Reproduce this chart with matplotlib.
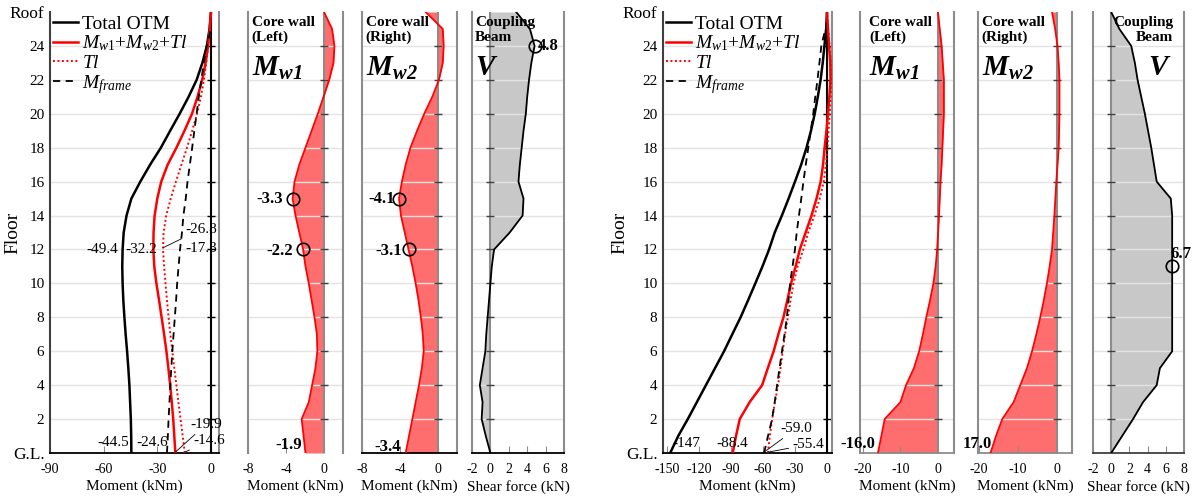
import numpy as np
import matplotlib
matplotlib.use('Agg')
import matplotlib.pyplot as plt

plt.rcParams['font.family'] = 'Liberation Serif'
plt.rcParams['mathtext.fontset'] = 'custom'
plt.rcParams['mathtext.rm'] = 'Liberation Serif'
plt.rcParams['mathtext.it'] = 'Liberation Serif:italic'
plt.rcParams['mathtext.bf'] = 'Liberation Serif:bold:italic'

# floors: 0 = G.L., 26 = Roof
floors = np.arange(27)
floors_frame = np.arange(26)
floor_ticks = np.arange(0, 27, 2)
floor_labels = ['G.L.'] + [str(f) for f in range(2, 26, 2)] + ['Roof']
grid_floors = np.arange(2, 25, 2)

# ---- left case ----
otm_total_a = [-44.5, -44.6, -44.8, -45.2, -45.6, -46.2, -46.9, -47.7, -48.4, -49.0, -49.4, -49.6, -49.4,
               -48.8, -47.2, -44.5, -39.5, -34.0, -28.0, -22.8, -17.5, -12.5, -8.0, -4.8, -2.3, -0.8, 0.0]
otm_walls_a = [-19.9, -20.5, -21.1, -21.9, -22.8, -23.8, -24.9, -26.2, -27.6, -29.0, -30.5, -31.7, -32.2,
               -32.1, -31.5, -30.0, -27.8, -24.2, -19.3, -14.8, -10.6, -7.5, -4.9, -3.0, -1.6, -0.6, 0.0]
otm_tl_a = [-14.6, -15.8, -17.0, -18.2, -19.3, -20.5, -21.6, -22.7, -23.7, -24.6, -25.4, -26.2, -26.8,
            -26.5, -25.0, -22.5, -19.6, -16.5, -13.4, -10.5, -7.8, -5.6, -3.9, -2.6, -1.6, -0.7, 0.0]
otm_frame_a = [-24.6, -24.1, -23.7, -23.2, -22.7, -22.2, -21.6, -20.9, -20.2, -19.5, -18.9, -18.1, -17.3,
               -16.2, -15.4, -14.1, -13.1, -11.8, -10.5, -9.3, -8.0, -6.8, -5.4, -4.0, -2.4, 0.0]
mw1_a = [-1.95, -2.15, -2.35, -1.6, -1.25, -0.9, -0.7, -0.75, -1.0, -1.3, -1.6, -1.95, -2.2,
         -2.6, -3.0, -3.3, -3.1, -2.6, -1.95, -1.3, -0.65, -0.05, 0.55, 1.0, 1.1, 0.85, 0.0]
mw2_a = [-3.4, -3.05, -2.7, -2.35, -2.0, -1.7, -1.5, -1.6, -1.8, -2.05, -2.35, -2.7, -3.1,
         -3.5, -3.9, -4.1, -3.8, -3.4, -2.9, -2.2, -1.45, -0.6, 0.1, 0.5, 0.6, 0.5, -1.3]
shear_a = [0.0, -0.5, -0.95, -0.85, -1.15, -0.85, -0.55, -0.45, -0.3, -0.15, 0.0, 0.15, 0.4,
           2.1, 3.5, 3.6, 3.05, 3.2, 3.4, 3.6, 3.85, 4.0, 4.2, 4.45, 4.8, 4.3, 2.8]

# ---- right case ----
otm_total_b = [-147.0, -139.5, -130.5, -122.0, -113.5, -105.0, -96.5, -88.8, -81.0, -74.0, -67.2, -60.5, -54.3,
               -49.0, -42.3, -36.0, -30.0, -24.2, -19.2, -15.0, -11.5, -8.6, -6.0, -4.0, -2.4, -0.8, 0.0]
otm_walls_b = [-88.4, -85.3, -81.8, -72.5, -60.8, -55.5, -50.0, -45.6, -40.8, -37.2, -33.7, -29.4, -25.5,
               -20.0, -14.5, -9.8, -5.9, -3.7, -2.2, -0.5, 0.9, 2.2, 3.3, 3.1, 1.9, 0.9, 0.0]
otm_tl_b = [-55.4, -53.6, -51.4, -48.8, -45.9, -43.6, -41.5, -39.3, -36.7, -34.2, -31.4, -27.5, -22.2,
            -17.6, -11.8, -6.8, -3.0, -1.0, 0.5, 1.5, 2.5, 3.4, 3.8, 3.5, 2.5, 1.0, 0.0]
otm_frame_b = [-59.0, -55.3, -51.5, -49.0, -46.8, -44.5, -42.2, -39.8, -37.6, -36.1, -34.6, -32.3, -30.0,
               -28.4, -26.3, -24.1, -22.1, -19.9, -17.5, -15.2, -12.9, -11.0, -8.9, -7.1, -5.3, -1.5]
mw1_b = [-16.0, -15.1, -14.2, -10.0, -8.5, -6.4, -5.0, -4.0, -3.1, -2.1, -1.2, -0.6, -0.2,
         0.05, 0.3, 0.5, 0.7, 1.0, 1.2, 1.4, 1.6, 1.6, 1.6, 1.3, 1.0, 0.5, 0.0]
mw2_b = [-17.0, -15.6, -14.0, -11.1, -9.4, -7.7, -6.4, -5.3, -4.3, -3.4, -2.6, -1.9, -1.3,
         -1.0, -0.7, -0.45, -0.2, 0.1, 0.4, 0.5, 0.6, 0.6, 0.6, 0.4, 0.1, -0.5, -1.3]
shear_b = [0.0, 1.2, 2.4, 3.5, 5.0, 5.35, 6.7, 6.7, 6.7, 6.7, 6.7, 6.7, 6.7,
           6.7, 6.7, 6.55, 5.0, 4.7, 4.4, 4.05, 3.7, 3.3, 2.9, 2.6, 2.2, 0.9, 0.0]

W, H = 1202, 496
TOP, BOT = 12, 453
GRAY = '#8c8c8c'

fig = plt.figure(figsize=(W / 100, H / 100), dpi=100)


def make_ax(left, right, xlim, xticks, xlabel, first=False, bottom=True, bottom_color=GRAY):
    ax = fig.add_axes([left / W, (H - BOT) / H, (right - left) / W, (BOT - TOP) / H])
    ax.set_xlim(*xlim)
    ax.set_ylim(0, 26)
    ax.set_xticks(xticks)
    ax.set_xticklabels([str(t) for t in xticks], fontsize=10)
    ax.tick_params(axis='x', direction='in', length=5, color=GRAY, pad=7)
    ax.set_xlabel(xlabel, fontsize=11, labelpad=3)
    ax.spines['top'].set_visible(False)
    for s in ('left', 'right'):
        ax.spines[s].set_color(GRAY)
        ax.spines[s].set_linewidth(1.5)
    if bottom:
        ax.spines['bottom'].set_color(bottom_color)
        ax.spines['bottom'].set_linewidth(1.3)
    else:
        ax.spines['bottom'].set_visible(False)
    ax.set_yticks(floor_ticks)
    if first:
        ax.set_yticklabels(floor_labels, fontsize=11)
        for lab in ax.get_yticklabels():
            if lab.get_text() in ('G.L.', 'Roof'):
                lab.set_fontsize(12.5)
        ax.tick_params(axis='y', length=0, pad=4)
        ax.set_ylabel('Floor', fontsize=14)
        ax.spines['left'].set_color('#404040')
    else:
        ax.set_yticklabels([])
        ax.tick_params(axis='y', length=0)
    ax.hlines(grid_floors, xlim[0], xlim[1], color='#e3e3e3', lw=1.0, zorder=1.5)
    return ax


def otm_panel(ax, total, walls, tl, frame):
    ax.axvline(0, color='black', lw=1.5, zorder=2)
    ax.plot(np.zeros(len(grid_floors)), grid_floors, ls='none', marker='_', ms=6, color='black', zorder=2)
    ax.plot(total, floors, color='black', lw=1.8, label='Total OTM', zorder=3)
    ax.plot(walls, floors, color='red', lw=1.8, label=r'$M_{w1}$+$M_{w2}$+$Tl$', zorder=3)
    ax.plot(tl, floors, color='red', lw=1.4, ls=(0, (1, 1.3)), label=r'$Tl$', zorder=3)
    ax.plot(frame, floors_frame, color='black', lw=1.3, ls=(0, (4, 3)), label=r'$M_{frame}$', zorder=3)
    ax.legend(loc='upper left', frameon=False, fontsize=14, handlelength=1.3, handletextpad=0.2,
              labelspacing=0.05, borderaxespad=0.05, borderpad=0.1)


def wall_panel(ax, values, title, symbol, tx=0.04):
    ax.axvline(0, color=GRAY, lw=1.5, zorder=2)
    ax.plot(np.zeros(len(grid_floors)), grid_floors, ls='none', marker='_', ms=6, color='#404040', zorder=2)
    ax.fill_betweenx(floors, values, 0, color='#ff6e6e', lw=0, zorder=1)
    ax.plot(values, floors, color='red', lw=1.3, zorder=3)
    ax.text(tx, 0.99, title, transform=ax.transAxes, ha='left', va='top', fontsize=11,
            fontweight='bold', linespacing=1.15, zorder=5)
    ax.text(tx, 0.872, symbol, transform=ax.transAxes, ha='left', va='center', fontsize=21, zorder=5)


def shear_panel(ax, values, align='left'):
    ax.axvline(0, color=GRAY, lw=1.5, zorder=2)
    ax.plot(np.zeros(len(grid_floors)), grid_floors, ls='none', marker='_', ms=6, color='#404040', zorder=2)
    ax.fill_betweenx(floors, values, 0, color='#c8c8c8', lw=0, zorder=1)
    ax.plot(values, floors, color='black', lw=1.3, zorder=3)
    x = 0.03 if align == 'left' else 0.88
    ax.text(x, 0.99, 'Coupling\nBeam', transform=ax.transAxes, ha=align, va='top', fontsize=11,
            fontweight='bold', linespacing=1.15, zorder=5)
    ax.text(x if align == 'left' else 0.865, 0.872, r'$\mathbf{V}$', transform=ax.transAxes,
            ha=align, va='center', fontsize=21, zorder=5)


def circle(ax, x, y):
    ax.plot([x], [y], ls='none', marker='o', ms=9, mfc='none', mec='black', mew=1.2, zorder=4)


def leader(ax, text, xy, xytext, **kw):
    ax.annotate(text, xy=xy, xytext=xytext, fontsize=11, ha='left', va='center',
                arrowprops=dict(arrowstyle='-', lw=0.6, color='black', shrinkA=1, shrinkB=0), **kw)


# ---------------- left group ----------------
ax1 = make_ax(50, 219, (-90, 4.5), [-90, -60, -30, 0], 'Moment (kNm)', first=True, bottom_color='black')
ax1.yaxis.set_label_coords(-0.17, 0.5)
otm_panel(ax1, otm_total_a, otm_walls_a, otm_tl_a, otm_frame_a)
ax1.text(-51.7, 12, '-49.4', fontsize=11, ha='right', va='center')
ax1.text(-47.8, 12, '-32.2', fontsize=11, ha='left', va='center')
ax1.text(-14.3, 12.05, '-17.3', fontsize=11, ha='left', va='center')
leader(ax1, '-26.8', (otm_tl_a[12], 12.1), (-14.3, 13.2))
ax1.text(-45.6, 0.6, '-44.5', fontsize=11, ha='right', va='center')
ax1.text(-23.8, 0.6, '-24.6', fontsize=11, ha='right', va='center')
leader(ax1, '-19.9', (otm_walls_a[0], 0.05), (-11.5, 1.7))
leader(ax1, '-14.6', (otm_tl_a[0], 0.05), (-9.8, 0.75))

ax2 = make_ax(248, 343, (-8, 2), [-8, -4, 0], 'Moment (kNm)', bottom=False)
wall_panel(ax2, mw1_a, 'Core wall\n(Left)', r'$\mathbf{M_{w1}}$')
circle(ax2, mw1_a[15], 15)
circle(ax2, mw1_a[12], 12)
ax2.text(-4.3, 15, '-3.3', fontsize=12, fontweight='bold', ha='right', va='center')
ax2.text(-3.25, 11.9, '-2.2', fontsize=12, fontweight='bold', ha='right', va='center')
ax2.text(-2.3, 0.45, '-1.9', fontsize=12, fontweight='bold', ha='right', va='center')

ax3 = make_ax(362, 457, (-8, 2), [-8, -4, 0], 'Moment (kNm)', bottom_color='black')
wall_panel(ax3, mw2_a, 'Core wall\n(Right)', r'$\mathbf{M_{w2}}$')
circle(ax3, mw2_a[15], 15)
circle(ax3, mw2_a[12], 12)
ax3.text(-4.5, 15, '-4.1', fontsize=12, fontweight='bold', ha='right', va='center')
ax3.text(-3.8, 11.9, '-3.1', fontsize=12, fontweight='bold', ha='right', va='center')
ax3.text(-3.95, 0.35, '-3.4', fontsize=12, fontweight='bold', ha='right', va='center')

ax4 = make_ax(472, 564, (-2, 8), [-2, 0, 2, 4, 6, 8], 'Shear force (kN)', bottom_color='black')
shear_panel(ax4, shear_a, 'left')
circle(ax4, shear_a[24], 24)
ax4.text(5.2, 24, '4.8', fontsize=12, fontweight='bold', ha='left', va='center')

# ---------------- right group ----------------
ax5 = make_ax(663, 832, (-153.75, 4.7), [-150, -120, -90, -60, -30, 0], 'Moment (kNm)', first=True,
              bottom_color='black')
ax5.yaxis.set_label_coords(-0.205, 0.5)
otm_panel(ax5, otm_total_b, otm_walls_b, otm_tl_b, otm_frame_b)
ax5.text(-145, 0.55, '-147', fontsize=11, ha='left', va='center')
ax5.text(-88.7, 0.55, '-88.4', fontsize=11, ha='center', va='center')
leader(ax5, '-59.0', (otm_frame_b[0], 0.05), (-43.4, 1.45))
leader(ax5, '-55.4', (otm_tl_b[0], 0.05), (-32, 0.5))

ax6 = make_ax(860, 954, (-20.8, 4.3), [-20, -10, 0], 'Moment (kNm)')
wall_panel(ax6, mw1_b, 'Core wall\n(Left)', r'$\mathbf{M_{w1}}$', tx=0.1)
t = ax6.text(-16.8, 0.55, '-16.0', fontsize=12, fontweight='bold', ha='right', va='center')
t.set_clip_on(False)

ax7 = make_ax(978, 1072, (-20.2, 3.8), [-20, -10, 0], 'Moment (kNm)')
wall_panel(ax7, mw2_b, 'Core wall\n(Right)', r'$\mathbf{M_{w2}}$')
ax7.text(-16.7, 0.55, '17.0', fontsize=12, fontweight='bold', ha='right', va='center')

ax8 = make_ax(1093, 1184, (-2, 8), [-2, 0, 2, 4, 6, 8], 'Shear force (kN)', bottom_color='#404040')
shear_panel(ax8, shear_b, 'right')
circle(ax8, shear_b[11], 11.05)
ax8.text(6.5, 11.75, '6.7', fontsize=12, fontweight='bold', ha='left', va='center')

fig.savefig('out.png', dpi=100)
